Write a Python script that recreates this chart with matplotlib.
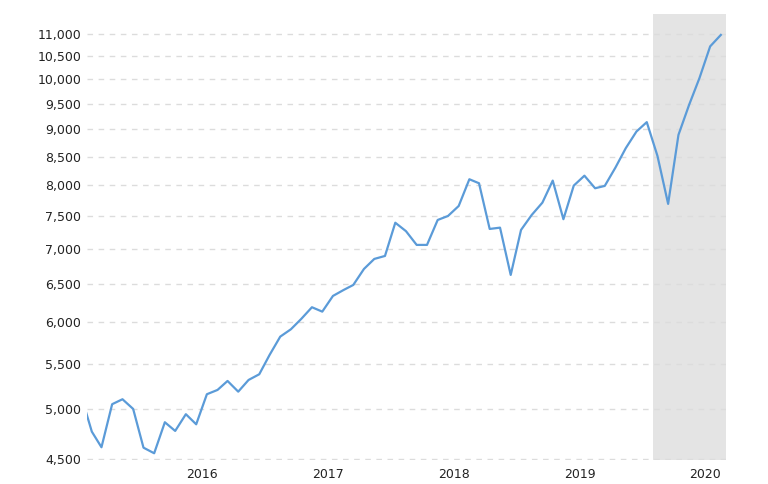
import pandas as pd
import matplotlib.pyplot as plt
import matplotlib.dates as mdates
from matplotlib.ticker import FixedLocator, FuncFormatter, NullLocator

# Monthly values, Jan 2015 - Feb 2020 (plotted mid-month)
months = pd.date_range("2015-01-01", "2020-02-01", freq="MS") + pd.Timedelta(days=14)
values = [
    5140, 4766, 4612, 5049, 5102, 4999, 4608, 4554, 4861, 4773, 4944, 4840,  # 2015
    5156, 5203, 5302, 5184, 5313, 5377, 5600, 5820, 5911, 6041, 6191, 6134,  # 2016
    6340, 6420, 6488, 6710, 6853, 6896, 7395, 7265, 7058, 7058, 7438, 7501,  # 2017
    7660, 8103, 8035, 7299, 7319, 6626, 7284, 7517, 7714, 8080, 7450, 7995,  # 2018
    8164, 7951, 7990, 8304, 8650, 8958, 9137, 8511, 7694, 8896, 9477, 10025,  # 2019
    10715, 10976,  # 2020
]

y_ticks = list(range(4500, 11001, 500))
year_ticks = pd.to_datetime(["2016-01-01", "2017-01-01", "2018-01-01", "2019-01-01", "2020-01-01"])
shade_start = pd.Timestamp("2019-08-01")
shade_end = pd.Timestamp("2020-03-01")

fig = plt.figure(figsize=(7.68, 4.84), dpi=100)
ax = fig.add_axes([87 / 768, 24 / 484, 639 / 768, 446 / 484])

ax.axvspan(shade_start, shade_end, color="#e4e4e4", lw=0, zorder=0)
ax.plot(months, values, color="#5b9bd8", lw=1.6, zorder=3)

ax.set_yscale("log")
ax.set_ylim(4490, 11470)
ax.set_xlim(pd.Timestamp("2015-02-01"), shade_end)

ax.yaxis.set_major_locator(FixedLocator(y_ticks))
ax.yaxis.set_minor_locator(NullLocator())
ax.yaxis.set_major_formatter(FuncFormatter(lambda v, p: f"{v:,.0f}"))
ax.set_xticks(year_ticks)
ax.xaxis.set_major_formatter(mdates.DateFormatter("%Y"))

ax.grid(axis="y", color="#dcdcdc", ls=(0, (4, 4)), lw=1, zorder=1)
ax.set_axisbelow(False)
for s in ax.spines.values():
    s.set_visible(False)
ax.tick_params(length=0, labelsize=9, colors="#222222")
ax.tick_params(axis="y", pad=4)
ax.tick_params(axis="x", pad=6)

fig.savefig("out.png", dpi=100)
